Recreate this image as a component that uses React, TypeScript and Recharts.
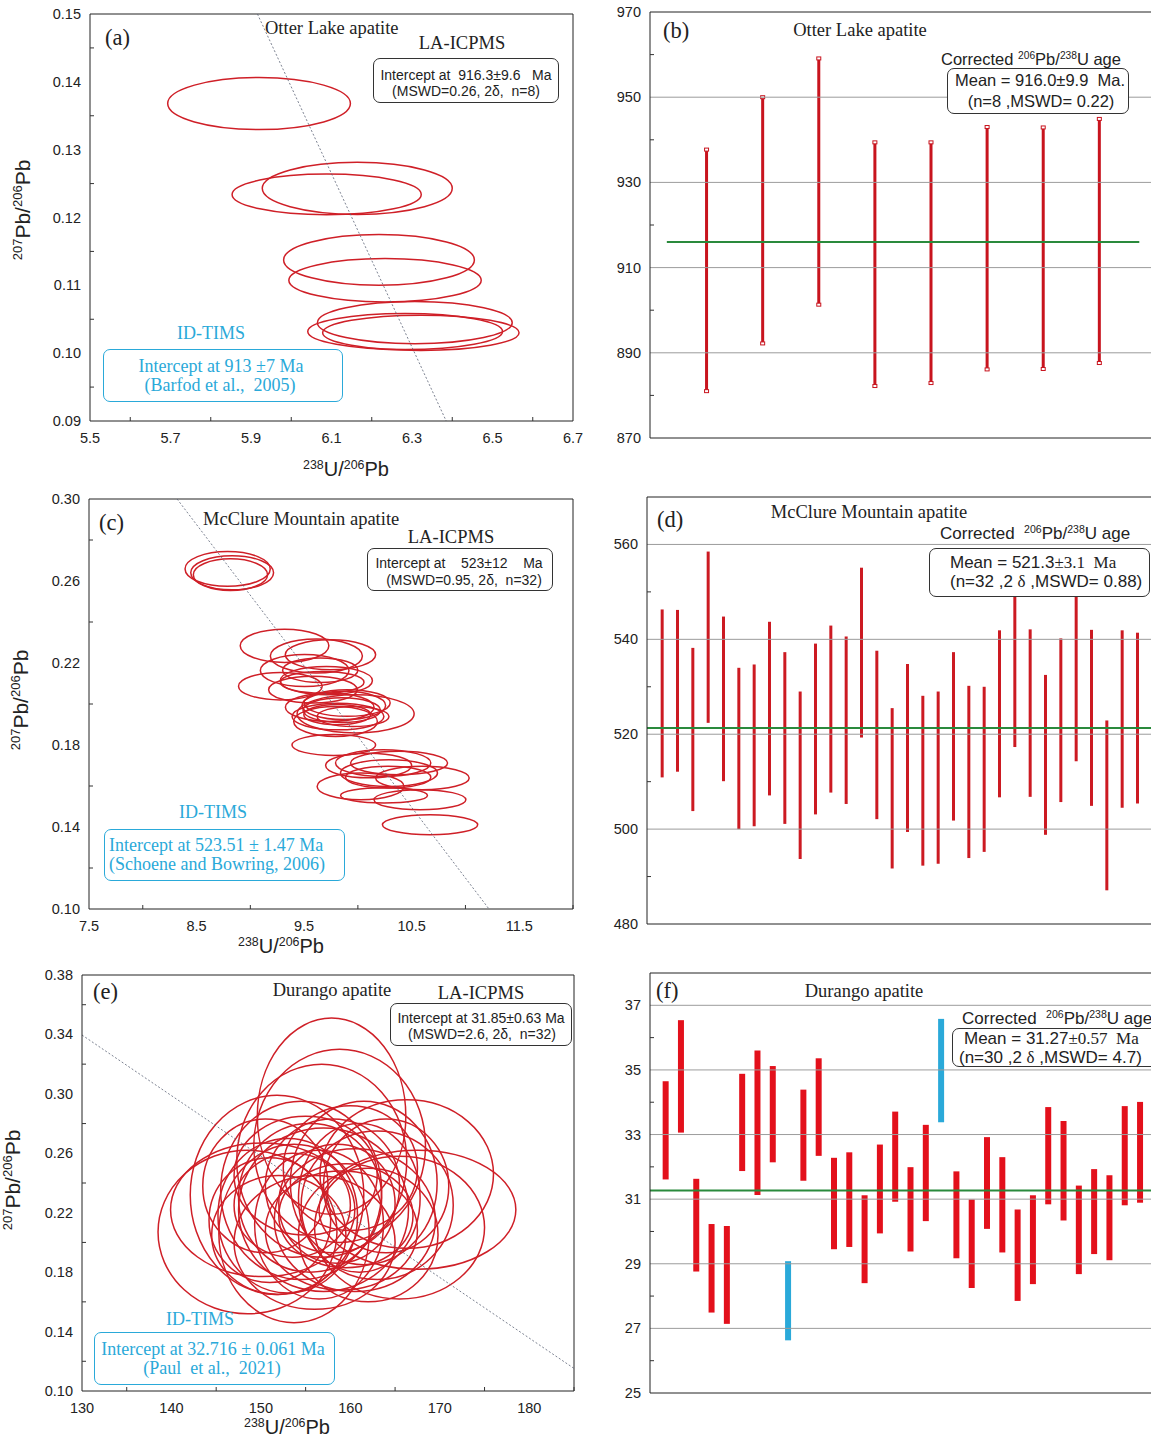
import React from 'react';
import { ScatterChart, Scatter, XAxis, YAxis, ReferenceArea, ReferenceLine, BarChart, Bar, Cell } from 'recharts';

const SANS = '"Liberation Sans", Arial, sans-serif';
const SERIF = '"Liberation Serif", "Times New Roman", serif';
const RED = '#cf1f27';
const CYAN = '#2aa9d9';
const GREEN = '#2a8a3c';
const GRID = '#9c9c9c';

// ---------- Panel (a) Otter Lake concordia ----------
const ellipsesA = [
  { x: 5.920, y: 0.1368, sx: 0.227, sy: 0.00384 },
  { x: 6.164, y: 0.1243, sx: 0.236, sy: 0.00384 },
  { x: 6.088, y: 0.1234, sx: 0.235, sy: 0.0030 },
  { x: 6.218, y: 0.11375, sx: 0.237, sy: 0.00374 },
  { x: 6.233, y: 0.11075, sx: 0.239, sy: 0.0032 },
  { x: 6.307, y: 0.1045, sx: 0.242, sy: 0.0031 },
  { x: 6.283, y: 0.1032, sx: 0.242, sy: 0.00266 },
  { x: 6.322, y: 0.1030, sx: 0.244, sy: 0.0026 },
];
const discordiaA = [{ x: 5.916, y: 0.15 }, { x: 6.385, y: 0.09 }];
const aXTicks = [5.5, 5.6, 5.7, 5.8, 5.9, 6.0, 6.1, 6.2, 6.3, 6.4, 6.5, 6.6, 6.7];
const aXLabels = [5.5, 5.7, 5.9, 6.1, 6.3, 6.5, 6.7];
const aYTicks = [0.09, 0.095, 0.1, 0.105, 0.11, 0.115, 0.12, 0.125, 0.13, 0.135, 0.14, 0.145, 0.15];
const aYLabels = [0.09, 0.1, 0.11, 0.12, 0.13, 0.14, 0.15];

// ---------- Panel (c) McClure Mountain concordia ----------
const ellipsesC = [
  { x: 8.789, y: 0.2659, sx: 0.396, sy: 0.0085 },
  { x: 8.831, y: 0.2640, sx: 0.385, sy: 0.0083 },
  { x: 8.815, y: 0.2631, sx: 0.345, sy: 0.0077 },
  { x: 9.318, y: 0.2284, sx: 0.412, sy: 0.0081 },
  { x: 9.614, y: 0.2234, sx: 0.428, sy: 0.0083 },
  { x: 9.745, y: 0.2240, sx: 0.420, sy: 0.0073 },
  { x: 9.505, y: 0.2163, sx: 0.412, sy: 0.0078 },
  { x: 9.279, y: 0.2087, sx: 0.389, sy: 0.0067 },
  { x: 9.707, y: 0.2114, sx: 0.428, sy: 0.0069 },
  { x: 9.582, y: 0.2070, sx: 0.412, sy: 0.0065 },
  { x: 9.668, y: 0.2106, sx: 0.389, sy: 0.0053 },
  { x: 9.738, y: 0.1984, sx: 0.412, sy: 0.0069 },
  { x: 9.869, y: 0.1993, sx: 0.389, sy: 0.0069 },
  { x: 9.979, y: 0.1952, sx: 0.544, sy: 0.0093 },
  { x: 9.815, y: 0.1939, sx: 0.427, sy: 0.0065 },
  { x: 9.792, y: 0.1915, sx: 0.389, sy: 0.0073 },
  { x: 9.955, y: 0.1939, sx: 0.334, sy: 0.0049 },
  { x: 9.808, y: 0.1948, sx: 0.311, sy: 0.0049 },
  { x: 9.776, y: 0.1800, sx: 0.389, sy: 0.0051 },
  { x: 10.235, y: 0.1712, sx: 0.443, sy: 0.0065 },
  { x: 10.383, y: 0.1712, sx: 0.451, sy: 0.0057 },
  { x: 10.289, y: 0.1663, sx: 0.451, sy: 0.0065 },
  { x: 10.282, y: 0.1643, sx: 0.396, sy: 0.0053 },
  { x: 10.600, y: 0.1639, sx: 0.435, sy: 0.0057 },
  { x: 10.025, y: 0.1598, sx: 0.404, sy: 0.0065 },
  { x: 10.243, y: 0.1554, sx: 0.404, sy: 0.0037 },
  { x: 10.577, y: 0.1533, sx: 0.427, sy: 0.0049 },
  { x: 10.671, y: 0.1411, sx: 0.443, sy: 0.0049 },
  { x: 9.850, y: 0.1970, sx: 0.360, sy: 0.0060 },
  { x: 9.650, y: 0.2165, sx: 0.350, sy: 0.0060 },
  { x: 10.100, y: 0.1700, sx: 0.400, sy: 0.0060 },
  { x: 9.900, y: 0.2005, sx: 0.400, sy: 0.0065 },
];
const discordiaC = [{ x: 8.319, y: 0.30 }, { x: 11.219, y: 0.10 }];
const cXTicks = [7.5, 8, 8.5, 9, 9.5, 10, 10.5, 11, 11.5, 12];
const cXLabels = [7.5, 8.5, 9.5, 10.5, 11.5];
const cYTicks = [0.1, 0.12, 0.14, 0.16, 0.18, 0.2, 0.22, 0.24, 0.26, 0.28, 0.3];
const cYLabels = [0.1, 0.14, 0.18, 0.22, 0.26, 0.3];

// ---------- Panel (e) Durango concordia ----------
const ellipsesE = [
  { x: 157.9, y: 0.285, sx: 8.3, sy: 0.066 },
  { x: 158.8, y: 0.265, sx: 9.6, sy: 0.065 },
  { x: 156.8, y: 0.255, sx: 9.5, sy: 0.065 },
  { x: 151.8, y: 0.232, sx: 9.7, sy: 0.067 },
  { x: 148.5, y: 0.207, sx: 10.0, sy: 0.055 },
  { x: 150.2, y: 0.222, sx: 10.3, sy: 0.045 },
  { x: 167.5, y: 0.222, sx: 11.0, sy: 0.040 },
  { x: 166.3, y: 0.246, sx: 9.7, sy: 0.050 },
  { x: 165.5, y: 0.210, sx: 9.5, sy: 0.048 },
  { x: 153.7, y: 0.206, sx: 8.4, sy: 0.060 },
  { x: 156.0, y: 0.200, sx: 9.0, sy: 0.045 },
  { x: 160.5, y: 0.215, sx: 9.0, sy: 0.048 },
  { x: 155.5, y: 0.230, sx: 8.0, sy: 0.050 },
  { x: 158.0, y: 0.238, sx: 7.5, sy: 0.045 },
  { x: 153.0, y: 0.218, sx: 7.8, sy: 0.052 },
  { x: 161.5, y: 0.240, sx: 8.2, sy: 0.055 },
  { x: 163.0, y: 0.225, sx: 8.5, sy: 0.050 },
  { x: 155.0, y: 0.245, sx: 8.0, sy: 0.040 },
  { x: 152.0, y: 0.205, sx: 7.5, sy: 0.040 },
  { x: 159.0, y: 0.208, sx: 8.5, sy: 0.040 },
  { x: 157.0, y: 0.222, sx: 9.5, sy: 0.055 },
  { x: 162.0, y: 0.205, sx: 7.8, sy: 0.045 },
  { x: 150.5, y: 0.238, sx: 7.0, sy: 0.045 },
  { x: 160.0, y: 0.250, sx: 7.5, sy: 0.042 },
  { x: 154.5, y: 0.235, sx: 9.0, sy: 0.060 },
  { x: 158.5, y: 0.226, sx: 6.5, sy: 0.040 },
  { x: 164.0, y: 0.238, sx: 7.0, sy: 0.045 },
  { x: 151.0, y: 0.215, sx: 6.8, sy: 0.042 },
  { x: 156.5, y: 0.212, sx: 7.2, sy: 0.050 },
  { x: 161.0, y: 0.230, sx: 6.8, sy: 0.050 },
  { x: 153.5, y: 0.225, sx: 6.5, sy: 0.035 },
  { x: 159.5, y: 0.218, sx: 7.5, sy: 0.035 },
];
const discordiaE = [{ x: 130, y: 0.3396 }, { x: 185, y: 0.1152 }];
const eXTicks = [130, 135, 140, 145, 150, 155, 160, 165, 170, 175, 180, 185];
const eXLabels = [130, 140, 150, 160, 170, 180];
const eYTicks = [0.1, 0.12, 0.14, 0.16, 0.18, 0.2, 0.22, 0.24, 0.26, 0.28, 0.3, 0.32, 0.34, 0.36, 0.38];
const eYLabels = [0.1, 0.14, 0.18, 0.22, 0.26, 0.3, 0.34, 0.38];

// ---------- Panel (b) Otter Lake ages ----------
const bLow = [881.0, 892.2, 901.3, 882.2, 882.9, 886.1, 886.2, 887.6];
const bHigh = [937.7, 950.0, 959.1, 939.4, 939.4, 943.0, 942.9, 944.9];
const bMean = 916.0;
const bMeanSpan = [0.3, 8.72];
const bTicks = [870, 880, 890, 900, 910, 920, 930, 940, 950, 960, 970];
const bLabels = [870, 890, 910, 930, 950, 970];
const bGrid = [890, 910, 930, 950];

// ---------- Panel (d) McClure Mountain ages ----------
const dHigh = [546.3, 546.2, 538.2, 558.5, 544.8, 534.0, 534.7, 543.7, 537.3, 529.0, 539.1, 542.9, 540.6, 555.1, 537.6, 525.5,
  534.8, 528.1, 529.0, 537.3, 530.2, 530.0, 541.9, 552.0, 542.1, 532.5, 540.2, 550.5, 542.0, 522.9, 541.9, 541.4];
const dLow = [510.9, 512.1, 503.8, 522.4, 510.1, 500.0, 500.6, 507.1, 501.1, 493.7, 503.1, 507.7, 505.3, 519.3, 502.1, 491.7,
  499.4, 492.3, 492.7, 501.8, 493.9, 495.2, 506.7, 517.3, 506.8, 498.8, 505.7, 514.3, 504.9, 487.1, 504.5, 505.4];
const dMean = 521.3;
const dTicks = [480, 490, 500, 510, 520, 530, 540, 550, 560];
const dLabels = [480, 500, 520, 540, 560];
const dGrid = [500, 520, 540, 560];

// ---------- Panel (f) Durango ages ----------
const fHigh = [34.65, 36.54, 31.63, 30.23, 30.17, 34.88, 35.60, 35.12, 29.08, 34.39, 35.36, 32.28, 32.45, 31.12, 32.69, 33.71,
  31.99, 33.30, 36.58, 31.86, 30.99, 32.92, 32.30, 30.68, 31.12, 33.85, 33.42, 31.42, 31.93, 31.74, 33.88, 34.01];
const fLow = [31.61, 33.06, 28.76, 27.49, 27.14, 31.87, 31.13, 32.14, 26.63, 31.57, 32.34, 29.45, 29.52, 28.40, 29.94, 30.92,
  29.38, 30.32, 33.38, 29.17, 28.25, 30.08, 29.35, 27.85, 28.37, 30.84, 30.34, 28.68, 29.30, 29.11, 30.81, 30.89];
const fOutliers = [9, 19];
const fMean = 31.27;
const fTicks = [25, 26, 27, 28, 29, 30, 31, 32, 33, 34, 35, 36, 37];
const fLabels = [25, 27, 29, 31, 33, 35, 37];
const fGrid = [27, 29, 31, 33, 35, 37];

// ---------- helpers ----------
const TICK_FS = 14.5;
const has = (arr: number[], v: number) => arr.some((a) => Math.abs(a - v) < 1e-9);

const makeYTick = (labels: number[], fmt: (v: number) => string) => (props: any) => {
  const { x, y, payload } = props;
  const v = payload.value;
  const ax = x + 8;
  if (has(labels, v)) {
    return (
      <text x={x - 1} y={y + 5} textAnchor="end" fontSize={TICK_FS} fontFamily={SANS} fill="#222">
        {fmt(v)}
      </text>
    );
  }
  return <line x1={ax} x2={ax + 4} y1={y} y2={y} stroke="#333" strokeWidth={1} />;
};

const makeXTick = (labels: number[], fmt: (v: number) => string) => (props: any) => {
  const { x, y, payload } = props;
  const v = payload.value;
  const ay = y - 8;
  if (has(labels, v)) {
    return (
      <text x={x} y={ay + 22} textAnchor="middle" fontSize={TICK_FS} fontFamily={SANS} fill="#222">
        {fmt(v)}
      </text>
    );
  }
  return <line x1={x} x2={x} y1={ay} y2={ay - 4} stroke="#333" strokeWidth={1} />;
};

const ellipseShape = (props: any) => {
  const { x, y, width, height } = props;
  return (
    <ellipse
      cx={x + width / 2}
      cy={y + height / 2}
      rx={Math.abs(width) / 2}
      ry={Math.abs(height) / 2}
      fill="none"
      stroke={RED}
      strokeWidth={1.5}
    />
  );
};

type Ell = { x: number; y: number; sx: number; sy: number };

function Concordia(p: {
  left: number; top: number; width: number; height: number;
  margin: { top: number; right: number; bottom: number; left: number };
  yw: number; xDomain: [number, number]; yDomain: [number, number];
  xTicks: number[]; xLabels: number[]; yTicks: number[]; yLabels: number[];
  xFmt: (v: number) => string; yFmt: (v: number) => string;
  ellipses: Ell[]; seg: { x: number; y: number }[];
}) {
  return (
    <div style={{ position: 'absolute', left: p.left, top: p.top }}>
      <ScatterChart width={p.width} height={p.height} margin={p.margin}>
        <XAxis
          type="number" dataKey="x" domain={p.xDomain} ticks={p.xTicks} interval={0} allowDataOverflow
          tickLine={false} tickSize={6} tickMargin={2} height={30}
          axisLine={{ stroke: '#222' }} tick={makeXTick(p.xLabels, p.xFmt)}
        />
        <YAxis
          type="number" dataKey="y" domain={p.yDomain} ticks={p.yTicks} interval={0} allowDataOverflow
          tickLine={false} tickSize={6} tickMargin={2} width={p.yw}
          axisLine={{ stroke: '#222' }} tick={makeYTick(p.yLabels, p.yFmt)}
        />
        <ReferenceLine y={p.yDomain[1]} stroke="#222" strokeWidth={1} ifOverflow="visible" />
        <ReferenceLine x={p.xDomain[1]} stroke="#222" strokeWidth={1} ifOverflow="visible" />
        <ReferenceLine segment={p.seg} stroke="#5a6275" strokeWidth={0.8} strokeDasharray="2 2" ifOverflow="visible" />
        {p.ellipses.map((e, i) => (
          <ReferenceArea
            key={i}
            x1={e.x - e.sx} x2={e.x + e.sx} y1={e.y - e.sy} y2={e.y + e.sy}
            ifOverflow="visible" shape={ellipseShape}
          />
        ))}
        <Scatter data={p.ellipses} isAnimationActive={false} shape={() => <g />} />
      </ScatterChart>
    </div>
  );
}

const capBar = (props: any) => {
  const { x, y, width, height, fill } = props;
  return (
    <g>
      <rect x={x} y={y} width={width} height={height} fill={fill} />
      <rect x={x - 0.5} y={y - 1.5} width={width + 1} height={3} fill="#fff" stroke={fill} strokeWidth={1} />
      <rect x={x - 0.5} y={y + height - 1.5} width={width + 1} height={3} fill="#fff" stroke={fill} strokeWidth={1} />
    </g>
  );
};

function AgePanel(p: {
  left: number; top: number; width: number; height: number;
  margin: { top: number; right: number; bottom: number; left: number };
  yw: number; n: number; yDomain: [number, number];
  low: number[]; high: number[]; ticks: number[]; labels: number[]; grid: number[];
  mean: number; meanSpan?: number[]; barSize: number; caps?: boolean; outliers?: number[]; color: string;
}) {
  const rows = p.low.map((lo, i) => ({ idx: i + 1, range: [lo, p.high[i]] }));
  return (
    <div style={{ position: 'absolute', left: p.left, top: p.top }}>
      <BarChart width={p.width} height={p.height} margin={p.margin} data={rows}>
        <XAxis type="number" dataKey="idx" domain={[0, p.n]} allowDataOverflow hide />
        <YAxis
          type="number" domain={p.yDomain} ticks={p.ticks} interval={0} allowDataOverflow
          tickLine={false} tickSize={6} tickMargin={2} width={p.yw}
          axisLine={{ stroke: '#222' }} tick={makeYTick(p.labels, (v) => String(v))}
        />
        {p.grid.map((g) => (
          <ReferenceLine key={g} y={g} stroke={GRID} strokeWidth={1} />
        ))}
        <ReferenceLine y={p.yDomain[0]} stroke="#222" strokeWidth={1} ifOverflow="visible" />
        <ReferenceLine y={p.yDomain[1]} stroke="#222" strokeWidth={1} ifOverflow="visible" />
        <Bar
          dataKey="range" barSize={p.barSize} fill={p.color} isAnimationActive={false}
          shape={p.caps ? capBar : undefined}
        >
          {rows.map((r) => (
            <Cell key={r.idx} fill={p.outliers && p.outliers.includes(r.idx) ? CYAN : p.color} />
          ))}
        </Bar>
        {p.meanSpan ? (
          <ReferenceLine
            segment={[{ x: p.meanSpan[0], y: p.mean }, { x: p.meanSpan[1], y: p.mean }]}
            stroke={GREEN} strokeWidth={2} ifOverflow="visible"
          />
        ) : (
          <ReferenceLine y={p.mean} stroke={GREEN} strokeWidth={2} />
        )}
      </BarChart>
    </div>
  );
}

const Txt = (p: { x: number; y: number; center?: boolean; style?: React.CSSProperties; children: React.ReactNode }) => (
  <div
    style={{
      position: 'absolute', left: p.x, top: p.y, lineHeight: 1, whiteSpace: 'pre',
      transform: p.center ? 'translate(-50%, -50%)' : 'translateY(-50%)',
      ...p.style,
    }}
  >
    {p.children}
  </div>
);

const Box = (p: { x: number; y: number; w: number; h: number; color?: string }) => (
  <div
    style={{
      position: 'absolute', left: p.x, top: p.y, width: p.w, height: p.h, boxSizing: 'border-box',
      border: `1.2px solid ${p.color || '#333'}`, borderRadius: 7, background: '#fff',
    }}
  />
);

const serif = (size: number, color = '#222'): React.CSSProperties => ({ fontFamily: SERIF, fontSize: size, color });
const sans = (size: number, color = '#222'): React.CSSProperties => ({ fontFamily: SANS, fontSize: size, color });
const supS: React.CSSProperties = { fontSize: '0.62em', verticalAlign: '0.55em', lineHeight: 0 };

const UPb = () => (
  <span><span style={supS}>238</span>U/<span style={supS}>206</span>Pb</span>
);
const PbPb = () => (
  <span><span style={supS}>207</span>Pb/<span style={supS}>206</span>Pb</span>
);
const PbU = () => (
  <span><span style={supS}>206</span>Pb/<span style={supS}>238</span>U</span>
);

const YTitle = (p: { x: number; y: number }) => (
  <div
    style={{
      position: 'absolute', left: p.x, top: p.y, whiteSpace: 'nowrap', lineHeight: 1,
      transform: 'translate(-50%, -50%) rotate(-90deg)', ...sans(21),
    }}
  >
    <PbPb />
  </div>
);

const TITLE = 18.5;
const LBL = 22.5;
const BOXT = 14;
const CY = 18;
const AGE = 17;

export default function App() {
  return (
    <div style={{ position: 'absolute', left: 0, top: 0, width: 1151, height: 1437, overflow: 'hidden', background: '#fff' }}>
      <Concordia
        left={0} top={0} width={600} height={480} margin={{ top: 14, right: 27, bottom: 29, left: 0 }} yw={90}
        xDomain={[5.5, 6.7]} yDomain={[0.09, 0.15]} xTicks={aXTicks} xLabels={aXLabels} yTicks={aYTicks} yLabels={aYLabels}
        xFmt={(v) => v.toFixed(1)} yFmt={(v) => v.toFixed(2)} ellipses={ellipsesA} seg={discordiaA}
      />
      <Concordia
        left={0} top={480} width={600} height={480} margin={{ top: 19, right: 27, bottom: 21, left: 0 }} yw={89}
        xDomain={[7.5, 12]} yDomain={[0.1, 0.3]} xTicks={cXTicks} xLabels={cXLabels} yTicks={cYTicks} yLabels={cYLabels}
        xFmt={(v) => v.toFixed(1)} yFmt={(v) => v.toFixed(2)} ellipses={ellipsesC} seg={discordiaC}
      />
      <Concordia
        left={0} top={960} width={600} height={477} margin={{ top: 15, right: 26, bottom: 16, left: 0 }} yw={82}
        xDomain={[130, 185]} yDomain={[0.1, 0.38]} xTicks={eXTicks} xLabels={eXLabels} yTicks={eYTicks} yLabels={eYLabels}
        xFmt={(v) => String(v)} yFmt={(v) => v.toFixed(2)} ellipses={ellipsesE} seg={discordiaE}
      />
      <AgePanel
        left={600} top={0} width={560} height={460} margin={{ top: 12, right: 5, bottom: 22, left: 0 }} yw={50}
        n={9} yDomain={[870, 970]} low={bLow} high={bHigh} ticks={bTicks} labels={bLabels} grid={bGrid}
        mean={bMean} meanSpan={bMeanSpan} barSize={3} caps color="#c8141e"
      />
      <AgePanel
        left={600} top={480} width={560} height={470} margin={{ top: 17, right: 7, bottom: 26, left: 0 }} yw={47}
        n={33} yDomain={[480, 570]} low={dLow} high={dHigh} ticks={dTicks} labels={dLabels} grid={dGrid}
        mean={dMean} barSize={3} color="#cc1a22"
      />
      <AgePanel
        left={600} top={960} width={560} height={477} margin={{ top: 13, right: 5, bottom: 44, left: 0 }} yw={50}
        n={33} yDomain={[25, 38]} low={fLow} high={fHigh} ticks={fTicks} labels={fLabels} grid={fGrid}
        mean={fMean} barSize={6} outliers={fOutliers} color="#e3101b"
      />

      {/* ---- panel a annotations ---- */}
      <Txt x={105} y={38} style={serif(LBL)}>(a)</Txt>
      <Txt x={265} y={28} style={serif(TITLE)}>Otter Lake apatite</Txt>
      <Txt x={462} y={43} center style={serif(TITLE)}>LA-ICPMS</Txt>
      <Box x={373} y={58} w={186} h={45} />
      <Txt x={466} y={75} center style={sans(BOXT)}>{'Intercept at  916.3\u00b19.6   Ma'}</Txt>
      <Txt x={466} y={91} center style={sans(BOXT)}>{'(MSWD=0.26, 2\u03b4,  n=8)'}</Txt>
      <Txt x={211} y={333} center style={serif(CY, CYAN)}>ID-TIMS</Txt>
      <Box x={103} y={349} w={240} h={53} color={CYAN} />
      <Txt x={221} y={366} center style={serif(CY, CYAN)}>{'Intercept at 913 \u00b17 Ma'}</Txt>
      <Txt x={220} y={385} center style={serif(CY, CYAN)}>{'(Barfod et al.,  2005)'}</Txt>
      <YTitle x={22} y={210} />
      <Txt x={346} y={469} center style={sans(20)}><UPb /></Txt>

      {/* ---- panel b annotations ---- */}
      <Txt x={663} y={31} style={serif(LBL)}>(b)</Txt>
      <Txt x={860} y={30} center style={serif(TITLE)}>Otter Lake apatite</Txt>
      <Txt x={941} y={59} style={sans(16.5)}>Corrected <PbU /> age</Txt>
      <Box x={947} y={68} w={182} h={46} />
      <Txt x={1040} y={80} center style={sans(16.5)}>{'Mean = 916.0\u00b19.9  Ma.'}</Txt>
      <Txt x={1041} y={101} center style={sans(16.5)}>{'(n=8 ,MSWD= 0.22)'}</Txt>

      {/* ---- panel c annotations ---- */}
      <Txt x={99} y={523} style={serif(LBL)}>(c)</Txt>
      <Txt x={203} y={519} style={serif(TITLE)}>McClure Mountain apatite</Txt>
      <Txt x={451} y={537} center style={serif(TITLE)}>LA-ICPMS</Txt>
      <Box x={367} y={548} w={186} h={43} />
      <Txt x={459} y={563} center style={sans(BOXT)}>{'Intercept at    523\u00b112    Ma'}</Txt>
      <Txt x={464} y={580} center style={sans(BOXT)}>{'(MSWD=0.95, 2\u03b4,  n=32)'}</Txt>
      <Txt x={213} y={812} center style={serif(CY, CYAN)}>ID-TIMS</Txt>
      <Box x={104} y={829} w={241} h={52} color={CYAN} />
      <Txt x={109} y={845} style={serif(CY, CYAN)}>{'Intercept at 523.51 \u00b1 1.47 Ma'}</Txt>
      <Txt x={109} y={864} style={serif(CY, CYAN)}>{'(Schoene and Bowring, 2006)'}</Txt>
      <YTitle x={20} y={700} />
      <Txt x={281} y={946} center style={sans(20)}><UPb /></Txt>

      {/* ---- panel d annotations ---- */}
      <Txt x={657} y={520} style={serif(LBL)}>(d)</Txt>
      <Txt x={869} y={512} center style={serif(TITLE)}>McClure Mountain apatite</Txt>
      <Txt x={940} y={533} style={sans(AGE)}>{'Corrected  '}<PbU /> age</Txt>
      <Box x={929} y={548} w={221} h={49} />
      <Txt x={950} y={562} style={sans(AGE)}>{'Mean = 521.3'}<span style={{ fontFamily: SERIF }}>{'\u00b13.1  Ma'}</span></Txt>
      <Txt x={950} y={581} style={sans(AGE)}>{'(n=32 ,2 '}<span style={{ fontFamily: SERIF }}>{'\u03b4'}</span>{' ,MSWD= 0.88)'}</Txt>

      {/* ---- panel e annotations ---- */}
      <Txt x={93} y={992} style={serif(LBL)}>(e)</Txt>
      <Txt x={332} y={990} center style={serif(TITLE)}>Durango apatite</Txt>
      <Txt x={481} y={993} center style={serif(TITLE)}>LA-ICPMS</Txt>
      <Box x={390} y={1003} w={182} h={43} />
      <Txt x={481} y={1018} center style={sans(BOXT)}>{'Intercept at 31.85\u00b10.63 Ma'}</Txt>
      <Txt x={482} y={1034} center style={sans(BOXT)}>{'(MSWD=2.6, 2\u03b4,  n=32)'}</Txt>
      <Txt x={200} y={1319} center style={serif(CY, CYAN)}>ID-TIMS</Txt>
      <Box x={94} y={1332} w={241} h={53} color={CYAN} />
      <Txt x={213} y={1349} center style={serif(CY, CYAN)}>{'Intercept at 32.716 \u00b1 0.061 Ma'}</Txt>
      <Txt x={212} y={1368} center style={serif(CY, CYAN)}>{'(Paul  et al.,  2021)'}</Txt>
      <YTitle x={12} y={1180} />
      <Txt x={287} y={1427} center style={sans(20)}><UPb /></Txt>

      {/* ---- panel f annotations ---- */}
      <Txt x={656} y={991} style={serif(LBL)}>(f)</Txt>
      <Txt x={864} y={991} center style={serif(TITLE)}>Durango apatite</Txt>
      <Txt x={962} y={1018} style={sans(AGE)}>{'Corrected  '}<PbU /> age</Txt>
      <Box x={952} y={1028} w={210} h={39} />
      <Txt x={964} y={1038} style={sans(AGE)}>{'Mean = 31.27'}<span style={{ fontFamily: SERIF }}>{'\u00b10.57  Ma'}</span></Txt>
      <Txt x={959} y={1057} style={sans(AGE)}>{'(n=30 ,2 '}<span style={{ fontFamily: SERIF }}>{'\u03b4'}</span>{' ,MSWD= 4.7)'}</Txt>
    </div>
  );
}
